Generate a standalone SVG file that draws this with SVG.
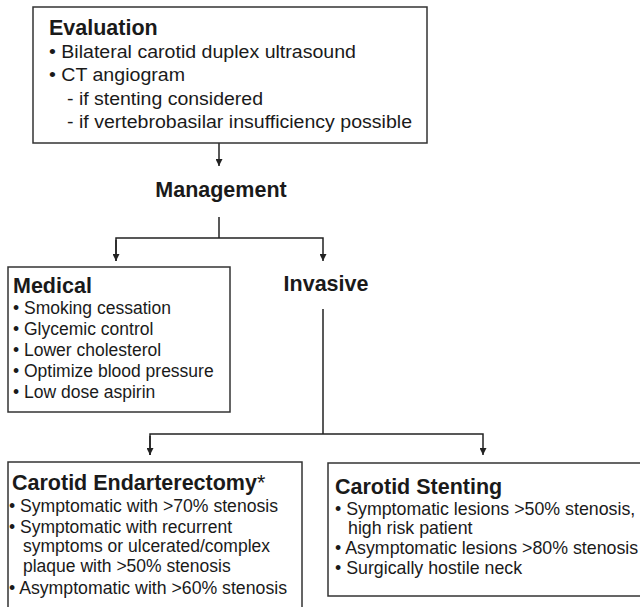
<svg xmlns="http://www.w3.org/2000/svg" width="640" height="607" viewBox="0 0 640 607">
  <style>
    .box { fill: #fff; stroke: #333; stroke-width: 1.5; }
    .conn { fill: none; stroke: #222; stroke-width: 1.5; }
    text { font-family: "Liberation Sans", Arial, Helvetica, sans-serif; fill: #1a1a1a; }
    .title { font-size: 21.5px; font-weight: bold; }
    .body { font-size: 17.5px; }
    .small { font-size: 17.5px; }
    .wide { font-size: 17.8px; }
  </style>
  <defs>
    <marker id="arrow" viewBox="0 0 10 10" refX="10" refY="5" markerWidth="7" markerHeight="7" markerUnits="userSpaceOnUse" orient="auto">
      <path d="M0,0 L10,5 L0,10 z" fill="#222"/>
    </marker>
  </defs>
  <rect width="640" height="607" fill="#fff"/>

  <!-- connectors -->
  <g id="connectors">
    <line class="conn" x1="219" y1="143" x2="219" y2="166" marker-end="url(#arrow)"/>
    <line class="conn" x1="219" y1="217" x2="219" y2="238"/>
    <polyline class="conn" points="116,261 116,238 323,238 323,261" marker-end="url(#arrow)"/>
    <line class="conn" x1="116" y1="240" x2="116" y2="261" marker-end="url(#arrow)"/>
    <line class="conn" x1="323" y1="309" x2="323" y2="434"/>
    <polyline class="conn" points="150,455 150,434 483,434 483,455" marker-end="url(#arrow)"/>
    <line class="conn" x1="150" y1="436" x2="150" y2="455" marker-end="url(#arrow)"/>
  </g>

  <!-- Evaluation -->
  <g id="evaluation">
    <rect class="box" x="33" y="7" width="394" height="136"/>
    <text class="title" x="49" y="35">Evaluation</text>
    <text class="body" x="49" y="58" textLength="307" lengthAdjust="spacingAndGlyphs">• Bilateral carotid duplex ultrasound</text>
    <text class="body" x="49" y="81" textLength="136" lengthAdjust="spacingAndGlyphs">• CT angiogram</text>
    <text class="body" x="67" y="105" textLength="196" lengthAdjust="spacingAndGlyphs">- if stenting considered</text>
    <text class="body" x="67" y="128" textLength="345" lengthAdjust="spacingAndGlyphs">- if vertebrobasilar insufficiency possible</text>
  </g>

  <!-- Management -->
  <g id="management">
    <text class="title" x="221" y="197" text-anchor="middle">Management</text>
  </g>

  <!-- Medical -->
  <g id="medical">
    <rect class="box" x="8" y="267" width="222" height="145"/>
    <text class="title" x="13" y="293">Medical</text>
    <text class="body" x="13" y="314">• Smoking cessation</text>
    <text class="body" x="13" y="335">• Glycemic control</text>
    <text class="body" x="13" y="356">• Lower cholesterol</text>
    <text class="body" x="13" y="377">• Optimize blood pressure</text>
    <text class="body" x="13" y="398">• Low dose aspirin</text>
  </g>

  <!-- Invasive -->
  <g id="invasive">
    <text class="title" x="326" y="291" text-anchor="middle">Invasive</text>
  </g>

  <!-- Carotid Endarterectomy -->
  <g id="endarterectomy">
    <rect class="box" x="8" y="462" width="294" height="160"/>
    <text class="title" x="12" y="490" font-size="22">Carotid Endarterectomy<tspan font-weight="normal">*</tspan></text>
    <text class="small" x="9" y="512" textLength="269" lengthAdjust="spacingAndGlyphs">• Symptomatic with &gt;70% stenosis</text>
    <text class="small" x="9" y="533">• Symptomatic with recurrent</text>
    <text class="small" x="23" y="552">symptoms or ulcerated/complex</text>
    <text class="small" x="23" y="572">plaque with &gt;50% stenosis</text>
    <text class="small" x="9" y="594" textLength="278" lengthAdjust="spacingAndGlyphs">• Asymptomatic with &gt;60% stenosis</text>
  </g>

  <!-- Carotid Stenting -->
  <g id="stenting">
    <rect class="box" x="328" y="463" width="330" height="133"/>
    <text class="title" x="335" y="494" font-size="20.5">Carotid Stenting</text>
    <text class="wide" x="335" y="515">• Symptomatic lesions &gt;50% stenosis,</text>
    <text class="wide" x="348" y="534">high risk patient</text>
    <text class="wide" x="335" y="554">• Asymptomatic lesions &gt;80% stenosis</text>
    <text class="wide" x="335" y="574">• Surgically hostile neck</text>
  </g>
</svg>
